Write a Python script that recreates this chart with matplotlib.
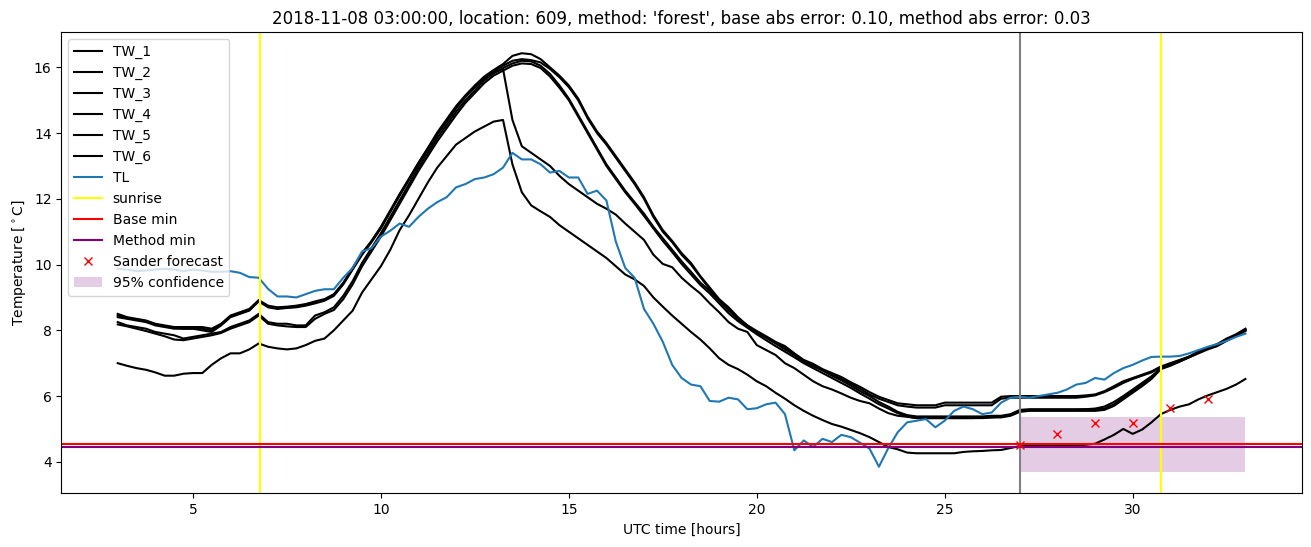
import matplotlib
matplotlib.use('Agg')
import numpy as np
import matplotlib.pyplot as plt

# time axis (UTC hours, 15 min steps)
hours = np.arange(3.0, 33.01, 0.25)

tw_1 = [8.50, 8.40, 8.35, 8.30, 8.20, 8.15, 8.10, 8.10,
        8.10, 8.10, 8.05, 8.20, 8.45, 8.55, 8.65, 8.92,
        8.75, 8.70, 8.72, 8.75, 8.80, 8.88, 8.95, 9.10,
        9.45, 9.90, 10.35, 10.72, 11.15, 11.65, 12.15, 12.62,
        13.10, 13.55, 14.02, 14.42, 14.82, 15.15, 15.45, 15.72,
        15.92, 16.10, 16.35, 16.43, 16.40, 16.25, 16.00, 15.75,
        15.45, 15.05, 14.50, 14.05, 13.70, 13.30, 12.90, 12.50,
        12.05, 11.50, 11.05, 10.72, 10.35, 10.05, 9.65, 9.30,
        8.95, 8.70, 8.40, 8.15, 7.98, 7.82, 7.65, 7.52,
        7.30, 7.10, 6.98, 6.82, 6.70, 6.58, 6.42, 6.28,
        6.12, 5.98, 5.88, 5.78, 5.75, 5.72, 5.72, 5.72,
        5.80, 5.80, 5.80, 5.80, 5.80, 5.80, 5.98, 6.00,
        6.00, 6.00, 6.00, 6.00, 6.00, 6.00, 6.00, 6.02,
        6.05, 6.15, 6.30, 6.45, 6.55, 6.65, 6.75, 6.90,
        7.00, 7.10, 7.20, 7.35, 7.45, 7.55, 7.70, 7.85,
        8.02]

tw_2 = [8.40, 8.35, 8.30, 8.25, 8.15, 8.10, 8.05, 8.05,
        8.05, 8.00, 7.95, 8.15, 8.40, 8.50, 8.60, 8.88,
        8.70, 8.65, 8.68, 8.70, 8.75, 8.82, 8.90, 9.05,
        9.40, 9.85, 10.30, 10.68, 11.10, 11.60, 12.10, 12.58,
        13.05, 13.50, 13.95, 14.35, 14.75, 15.10, 15.40, 15.68,
        15.88, 16.05, 16.20, 16.25, 16.22, 16.15, 15.95, 15.70,
        15.40, 15.00, 14.45, 14.00, 13.65, 13.25, 12.85, 12.45,
        12.00, 11.45, 11.00, 10.68, 10.30, 10.00, 9.62, 9.25,
        8.90, 8.65, 8.35, 8.10, 7.92, 7.78, 7.62, 7.48,
        7.25, 7.05, 6.92, 6.78, 6.65, 6.52, 6.38, 6.22,
        6.05, 5.92, 5.82, 5.72, 5.68, 5.65, 5.65, 5.65,
        5.72, 5.72, 5.72, 5.72, 5.72, 5.72, 5.92, 5.95,
        5.95, 5.95, 5.95, 5.95, 5.95, 5.95, 5.95, 5.98,
        6.02, 6.12, 6.25, 6.40, 6.52, 6.62, 6.72, 6.88,
        6.98, 7.08, 7.18, 7.30, 7.42, 7.52, 7.68, 7.82,
        7.98]

tw_3 = [8.25, 8.15, 8.10, 8.05, 7.95, 7.90, 7.85, 7.75,
        7.80, 7.85, 7.90, 7.95, 8.10, 8.20, 8.30, 8.50,
        8.25, 8.20, 8.20, 8.15, 8.15, 8.45, 8.55, 8.70,
        9.05, 9.50, 10.05, 10.50, 10.95, 11.45, 11.95, 12.45,
        12.95, 13.40, 13.85, 14.25, 14.65, 15.00, 15.30, 15.60,
        15.82, 15.98, 16.12, 16.20, 16.18, 16.05, 15.80, 15.45,
        15.05, 14.55, 14.05, 13.55, 13.05, 12.65, 12.25, 11.90,
        11.55, 11.15, 10.80, 10.45, 10.10, 9.78, 9.45, 9.20,
        8.90, 8.60, 8.35, 8.15, 7.95, 7.78, 7.60, 7.42,
        7.25, 7.08, 6.92, 6.78, 6.62, 6.48, 6.32, 6.15,
        6.00, 5.82, 5.68, 5.52, 5.42, 5.38, 5.38, 5.38,
        5.38, 5.38, 5.38, 5.38, 5.38, 5.40, 5.40, 5.45,
        5.58, 5.60, 5.60, 5.60, 5.60, 5.60, 5.60, 5.60,
        5.60, 5.62, 5.75, 5.95, 6.15, 6.35, 6.55, 6.85,
        6.95, 7.08, 7.20, 7.35, 7.48, 7.58, 7.75, 7.88,
        8.05]

tw_4 = [8.18, 8.12, 8.05, 7.98, 7.90, 7.82, 7.72, 7.70,
        7.75, 7.80, 7.85, 7.92, 8.05, 8.15, 8.25, 8.45,
        8.20, 8.15, 8.12, 8.10, 8.10, 8.35, 8.50, 8.62,
        8.95, 9.40, 9.95, 10.40, 10.85, 11.35, 11.85, 12.35,
        12.85, 13.30, 13.75, 14.15, 14.55, 14.92, 15.22, 15.52,
        15.75, 15.90, 16.05, 16.12, 16.10, 15.98, 15.72, 15.38,
        15.00, 14.50, 14.00, 13.50, 13.00, 12.60, 12.20, 11.85,
        11.48, 11.10, 10.72, 10.38, 10.02, 9.70, 9.38, 9.12,
        8.82, 8.52, 8.28, 8.08, 7.88, 7.70, 7.52, 7.35,
        7.18, 7.00, 6.85, 6.70, 6.55, 6.40, 6.25, 6.08,
        5.92, 5.75, 5.62, 5.48, 5.38, 5.33, 5.33, 5.33,
        5.33, 5.33, 5.33, 5.33, 5.33, 5.35, 5.35, 5.40,
        5.52, 5.55, 5.55, 5.55, 5.55, 5.55, 5.55, 5.55,
        5.55, 5.58, 5.70, 5.90, 6.10, 6.30, 6.52, 6.82,
        6.92, 7.05, 7.18, 7.32, 7.45, 7.55, 7.72, 7.85,
        8.00]

tw_5 = [8.45, 8.38, 8.32, 8.28, 8.18, 8.12, 8.08, 8.05,
        8.05, 8.05, 8.00, 8.18, 8.42, 8.52, 8.62, 8.90,
        8.72, 8.68, 8.70, 8.72, 8.78, 8.85, 8.92, 9.08,
        9.42, 9.88, 10.32, 10.70, 11.12, 11.62, 12.12, 12.60,
        13.08, 13.52, 13.98, 14.38, 14.78, 15.12, 15.40, 15.65,
        15.85, 15.95, 14.40, 13.60, 13.40, 13.20, 13.00, 12.70,
        12.45, 12.25, 12.05, 11.85, 11.70, 11.52, 11.25, 11.00,
        10.75, 10.30, 10.02, 9.92, 9.60, 9.35, 9.12, 8.82,
        8.55, 8.25, 8.05, 7.95, 7.55, 7.40, 7.25, 7.00,
        6.85, 6.65, 6.45, 6.30, 6.20, 6.08, 5.95, 5.85,
        5.78, 5.62, 5.48, 5.40, 5.37, 5.33, 5.33, 5.33,
        5.33, 5.33, 5.33, 5.33, 5.35, 5.35, 5.38, 5.42,
        5.55, 5.58, 5.58, 5.58, 5.58, 5.58, 5.58, 5.60,
        5.62, 5.68, 5.82, 6.00, 6.20, 6.40, 6.60, 6.85,
        6.95, 7.05, 7.18, 7.32, 7.45, 7.58, 7.72, 7.85,
        8.02]

tw_6 = [7.00, 6.92, 6.85, 6.80, 6.72, 6.62, 6.62, 6.68,
        6.70, 6.70, 6.95, 7.15, 7.30, 7.30, 7.42, 7.60,
        7.50, 7.45, 7.42, 7.45, 7.55, 7.68, 7.75, 8.00,
        8.30, 8.60, 9.15, 9.55, 9.95, 10.45, 11.05, 11.50,
        12.00, 12.50, 12.95, 13.30, 13.65, 13.85, 14.05, 14.20,
        14.35, 14.40, 13.05, 12.20, 11.80, 11.62, 11.45, 11.20,
        11.00, 10.80, 10.60, 10.40, 10.20, 9.95, 9.70, 9.55,
        9.35, 9.00, 8.72, 8.45, 8.20, 7.95, 7.72, 7.45,
        7.15, 6.95, 6.82, 6.65, 6.45, 6.30, 6.10, 5.92,
        5.72, 5.55, 5.40, 5.27, 5.15, 5.07, 4.97, 4.87,
        4.75, 4.60, 4.45, 4.38, 4.28, 4.26, 4.26, 4.26,
        4.26, 4.26, 4.30, 4.32, 4.33, 4.35, 4.36, 4.42,
        4.48, 4.50, 4.50, 4.48, 4.50, 4.50, 4.50, 4.52,
        4.55, 4.68, 4.82, 5.00, 4.85, 4.98, 5.20, 5.45,
        5.58, 5.68, 5.75, 5.90, 6.02, 6.12, 6.22, 6.35,
        6.52]

tl = [9.87, 9.85, 9.80, 9.82, 9.85, 9.87, 9.85, 9.80,
      9.85, 9.82, 9.78, 9.78, 9.80, 9.75, 9.62, 9.60,
      9.26, 9.03, 9.03, 9.00, 9.10, 9.20, 9.25, 9.25,
      9.60, 9.90, 10.40, 10.50, 10.85, 11.03, 11.25, 11.15,
      11.45, 11.70, 11.90, 12.05, 12.35, 12.45, 12.60, 12.65,
      12.75, 12.95, 13.40, 13.20, 13.20, 13.05, 12.80, 12.85,
      12.65, 12.65, 12.15, 12.25, 11.95, 10.70, 9.90, 9.60,
      8.65, 8.20, 7.65, 6.95, 6.55, 6.35, 6.30, 5.85,
      5.83, 5.95, 5.90, 5.60, 5.63, 5.75, 5.80, 5.45,
      4.35, 4.65, 4.45, 4.70, 4.60, 4.82, 4.75, 4.58,
      4.40, 3.85, 4.42, 4.90, 5.20, 5.25, 5.30, 5.05,
      5.25, 5.55, 5.68, 5.60, 5.45, 5.50, 5.80, 5.95,
      5.98, 5.95, 6.00, 6.05, 6.10, 6.20, 6.35, 6.40,
      6.55, 6.50, 6.70, 6.85, 6.95, 7.08, 7.19, 7.20,
      7.20, 7.22, 7.30, 7.40, 7.50, 7.58, 7.68, 7.80,
      7.90]

sunrise = [6.78, 30.76]
forecast_time = 27.0
base_min = 4.53
method_min = 4.45
sander_hours = [27, 28, 29, 30, 31, 32]
sander_temp = [4.52, 4.84, 5.17, 5.17, 5.63, 5.91]
conf_hours = [27, 33]
conf_low = 3.68
conf_high = 5.37

fig = plt.figure(figsize=(13.11, 5.47), dpi=100)
ax = fig.add_axes([0.0468, 0.0982, 0.9462, 0.8428])

for i, tw in enumerate([tw_1, tw_2, tw_3, tw_4, tw_5, tw_6]):
    ax.plot(hours, tw, color='black', label='TW_%d' % (i + 1))
ax.plot(hours, tl, color='tab:blue', label='TL')

ax.axvline(sunrise[0], color='yellow', label='sunrise')
ax.axvline(sunrise[1], color='yellow')
ax.axvline(forecast_time, color='grey')
ax.axhline(base_min, color='red', label='Base min')
ax.axhline(method_min, color='purple', label='Method min')
ax.plot(sander_hours, sander_temp, 'rx', label='Sander forecast')
ax.fill_between(conf_hours, conf_low, conf_high, color='purple', alpha=0.2,
                linewidth=0, label='95% confidence')

ax.set_title("2018-11-08 03:00:00, location: 609, method: 'forest', "
             "base abs error: 0.10, method abs error: 0.03")
ax.set_xlabel('UTC time [hours]')
ax.set_ylabel(r'Temperature [$^\circ$C]')
ax.legend(loc='upper left')

fig.savefig('out.png', dpi=100)
